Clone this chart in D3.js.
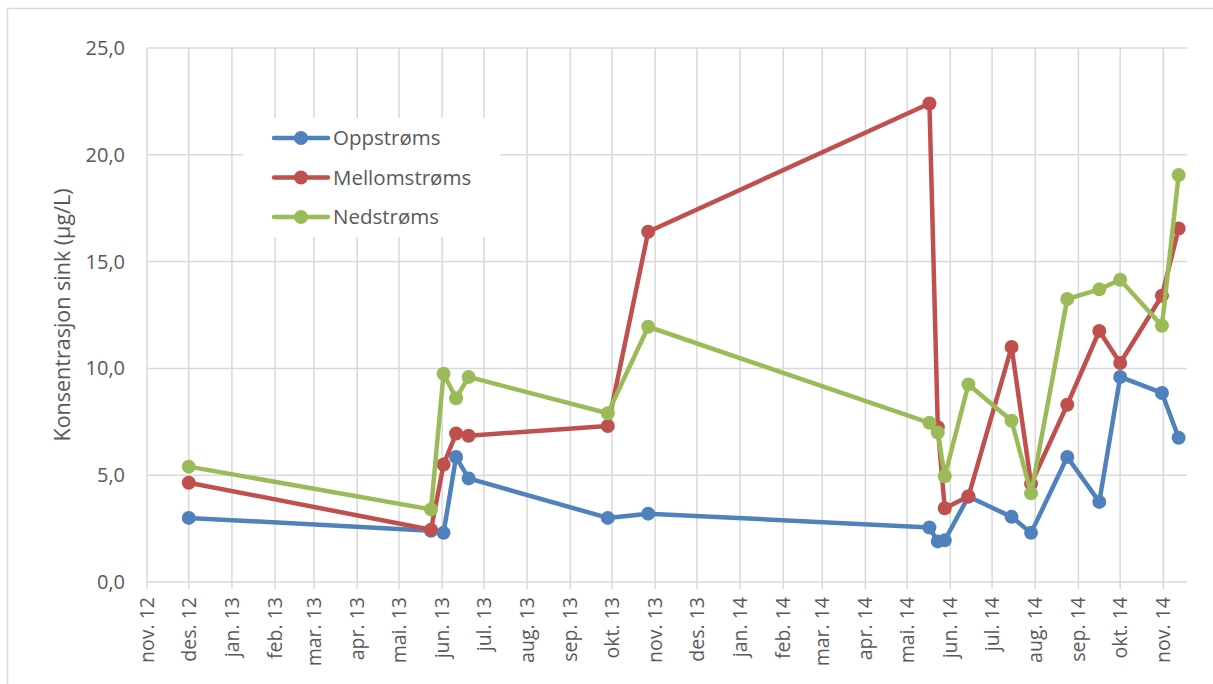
<!DOCTYPE html>
<html>
<head>
<meta charset="utf-8">
<script src="https://cdn.jsdelivr.net/npm/d3@7"></script>
<style>
  body { margin: 0; background: #fff; }
  svg text { font-family: "Open Sans", sans-serif; fill: #595959; }
</style>
</head>
<body>
<svg id="chart" width="1213" height="684"></svg>
<script>
// sampling dates (same for all three stations)
const sampleDates = [
  "2012-12-01", "2013-05-24", "2013-06-02", "2013-06-11", "2013-06-20",
  "2013-09-28", "2013-10-27", "2014-05-17", "2014-05-23", "2014-05-28",
  "2014-06-14", "2014-07-15", "2014-07-29", "2014-08-24", "2014-09-16",
  "2014-10-01", "2014-10-31", "2014-11-12"
];
const oppstroms = [3.0, 2.4, 2.3, 5.85, 4.85, 3.0, 3.2, 2.55, 1.9, 1.95, 4.0, 3.05, 2.3, 5.85, 3.75, 9.6, 8.85, 6.75];
const mellomstroms = [4.65, 2.45, 5.5, 6.95, 6.85, 7.3, 16.4, 22.4, 7.25, 3.45, 4.0, 11.0, 4.6, 8.3, 11.75, 10.25, 13.4, 16.55];
const nedstroms = [5.4, 3.4, 9.75, 8.6, 9.6, 7.9, 11.95, 7.45, 7.0, 4.95, 9.25, 7.55, 4.15, 13.25, 13.7, 14.15, 12.0, 19.05];

const seriesNames = ["Oppstrøms", "Mellomstrøms", "Nedstrøms"];
const seriesColors = ["#4f81bd", "#c0504d", "#9bbb59"];
const monthNames = ["jan.", "feb.", "mar.", "apr.", "mai.", "jun.", "jul.", "aug.", "sep.", "okt.", "nov.", "des."];
const yTicks = [0, 5, 10, 15, 20, 25];
const yTitle = "Konsentrasjon sink (µg/L)";

const parse = d3.timeParse("%Y-%m-%d");
const series = [oppstroms, mellomstroms, nedstroms].map((vals, i) => ({
  name: seriesNames[i],
  color: seriesColors[i],
  points: vals.map((v, j) => ({ date: parse(sampleDates[j]), value: v }))
}));

const svg = d3.select("#chart");
const margin = { left: 147, right: 26, top: 48, bottom: 102 };
const width = 1213, height = 684;

// outer chart border
svg.append("rect")
  .attr("x", 7.5).attr("y", 8.5)
  .attr("width", 1220).attr("height", 690)
  .attr("fill", "none").attr("stroke", "#d9d9d9").attr("stroke-width", 1.5);

const x = d3.scaleTime()
  .domain([new Date(2012, 10, 1), new Date(2014, 10, 18)])
  .range([margin.left, width - margin.right]);
const y = d3.scaleLinear()
  .domain([0, 25])
  .range([height - margin.bottom, margin.top]);

const monthTicks = d3.timeMonth.range(new Date(2012, 10, 1), new Date(2014, 10, 2));
const fmtMonth = d => monthNames[d.getMonth()] + " " + String(d.getFullYear()).slice(2);
const fmtY = d => d3.format(".1f")(d).replace(".", ",");

// gridlines
const grid = svg.append("g");
grid.selectAll(".vg").data(monthTicks).join("line")
  .attr("x1", d => x(d)).attr("x2", d => x(d))
  .attr("y1", y(25)).attr("y2", y(0) + 7)
  .attr("stroke", "#d9d9d9").attr("stroke-width", 1.5);
grid.selectAll(".hg").data(yTicks).join("line")
  .attr("x1", margin.left).attr("x2", width - margin.right)
  .attr("y1", d => y(d)).attr("y2", d => y(d))
  .attr("stroke", "#d9d9d9").attr("stroke-width", 1.5);

// y axis labels
svg.append("g").selectAll("text").data(yTicks).join("text")
  .attr("x", 125).attr("y", d => y(d))
  .attr("dy", "0.35em")
  .attr("text-anchor", "end")
  .style("font-size", "20px")
  .text(fmtY);

// x axis labels
svg.append("g").selectAll("text").data(monthTicks).join("text")
  .attr("transform", d => `translate(${x(d)},${y(0) + 15}) rotate(-90)`)
  .attr("dy", "0.35em")
  .attr("text-anchor", "end")
  .style("font-size", "19.5px")
  .text(fmtMonth);

// y title
svg.append("text")
  .attr("transform", `translate(62,${(y(0) + y(25)) / 2}) rotate(-90)`)
  .attr("text-anchor", "middle")
  .attr("dy", "0.35em")
  .style("font-size", "21.5px")
  .text(yTitle);

// series
const line = d3.line().x(d => x(d.date)).y(d => y(d.value));
series.forEach(s => {
  const g = svg.append("g");
  g.append("path")
    .datum(s.points)
    .attr("d", line)
    .attr("fill", "none")
    .attr("stroke", s.color)
    .attr("stroke-width", 4.5)
    .attr("stroke-linejoin", "round");
  g.selectAll("circle").data(s.points).join("circle")
    .attr("cx", d => x(d.date)).attr("cy", d => y(d.value))
    .attr("r", 7)
    .attr("fill", s.color);
});

// legend
const legend = svg.append("g");
legend.append("rect")
  .attr("x", 243).attr("y", 118).attr("width", 257).attr("height", 119)
  .attr("fill", "#fff");
const items = legend.selectAll("g").data(series).join("g")
  .attr("transform", (d, i) => `translate(0,${138 + i * 39.5})`);
items.append("line")
  .attr("x1", 274).attr("x2", 328)
  .attr("stroke", d => d.color).attr("stroke-width", 4.5)
  .attr("stroke-linecap", "round");
items.append("circle")
  .attr("cx", 301).attr("r", 7)
  .attr("fill", d => d.color);
items.append("text")
  .attr("x", 333).attr("dy", "0.35em")
  .style("font-size", "20.5px")
  .text(d => d.name);
</script>
</body>
</html>
